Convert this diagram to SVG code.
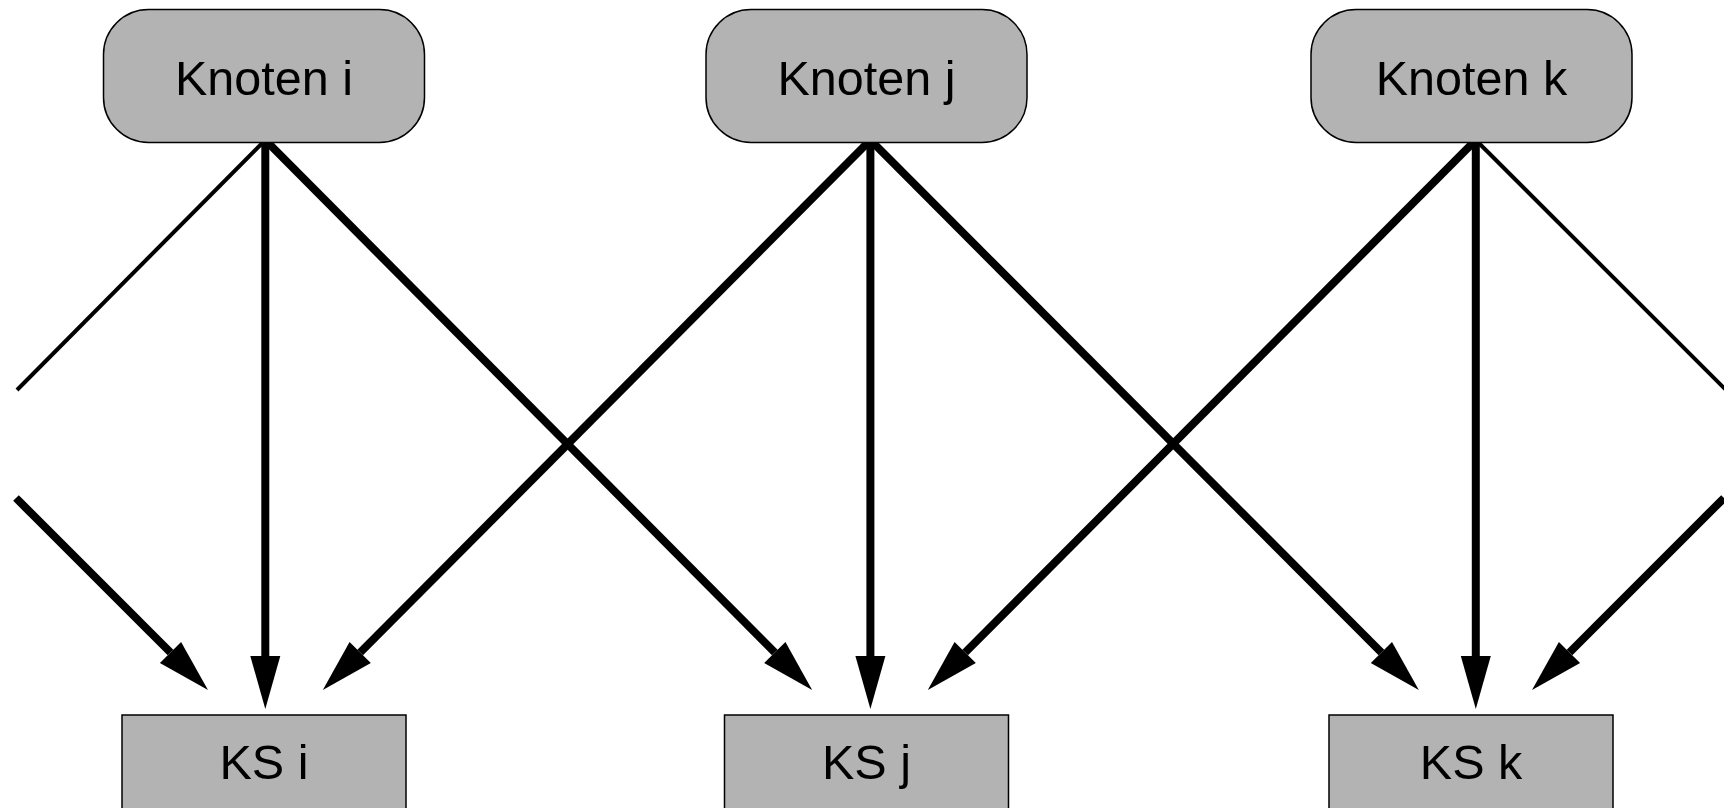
<svg xmlns="http://www.w3.org/2000/svg" width="1724" height="808" viewBox="0 0 1724 808">
<style>
.node{fill:#b3b3b3;stroke:#000;stroke-width:1.5}
.lbl{font-family:"Liberation Sans",Arial,sans-serif;font-size:48.5px;fill:#000;text-anchor:middle}
.thick{fill:none;stroke:#000;stroke-width:8}
.thin{fill:none;stroke:#000;stroke-width:4}
.arr{marker-end:url(#ah)}
</style>
<defs>
<marker id="ah" markerUnits="userSpaceOnUse" markerWidth="60" markerHeight="40" refX="0" refY="0" viewBox="0 -20 60 40" orient="auto" overflow="visible">
<path d="M0,-15 L53,0 L0,15 z" fill="#000"/>
</marker>
</defs>
<rect width="1724" height="808" fill="#fff"/>
<g id="connectors">
<path class="thick arr" d="M265.3,140 L265.3,656"/>
<path class="thick arr" d="M265.3,140 L774.8,652.5"/>
<path class="thin" d="M265.3,140 L17,390"/>
<path class="thick arr" d="M16,498 L170.5,652.5"/>
<path class="thick arr" d="M870.4,140 L360.2,652.5"/>
<path class="thick arr" d="M870.4,140 L870.4,656"/>
<path class="thick arr" d="M870.4,140 L1381.4,652.5"/>
<path class="thick arr" d="M1475.8,140 L965.2,652.5"/>
<path class="thick arr" d="M1475.8,140 L1475.8,656"/>
<path class="thin" d="M1475.8,140 L1726,390"/>
<path class="thick arr" d="M1724,498 L1569.5,652.5"/>
</g>
<g id="knoten-i"><rect class="node" x="103.5" y="9.5" width="321" height="133" rx="45" ry="45"/><text class="lbl" x="264" y="95">Knoten i</text></g>
<g id="knoten-j"><rect class="node" x="706" y="9.5" width="321" height="133" rx="45" ry="45"/><text class="lbl" x="866.5" y="95">Knoten j</text></g>
<g id="knoten-k"><rect class="node" x="1311" y="9.5" width="321" height="133" rx="45" ry="45"/><text class="lbl" x="1471.5" y="95">Knoten k</text></g>
<g id="ks-i"><rect class="node" x="122" y="715" width="284" height="110"/><text class="lbl" x="264" y="779">KS i</text></g>
<g id="ks-j"><rect class="node" x="724.5" y="715" width="284" height="110"/><text class="lbl" x="866.5" y="779">KS j</text></g>
<g id="ks-k"><rect class="node" x="1329" y="715" width="284" height="110"/><text class="lbl" x="1471" y="779">KS k</text></g>
</svg>
